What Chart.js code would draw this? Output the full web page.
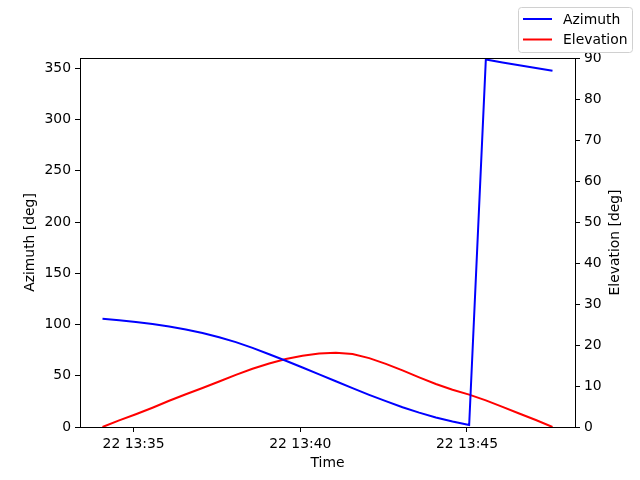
<!DOCTYPE html>
<html>
<head>
<meta charset="utf-8">
<script src="https://cdn.jsdelivr.net/npm/chart.js@4.4.1/dist/chart.umd.min.js"></script>
<style>
  html, body { margin: 0; padding: 0; background: #fff; }
  #wrap { width: 640px; height: 480px; }
</style>
</head>
<body>
<div id="wrap"><canvas id="chart" width="640" height="480"></canvas></div>
<script>
// =============================
// DATA (30 s samples, day 22)
// =============================
const times = [
  "13:34:04", "13:34:34", "13:35:04", "13:35:34", "13:36:04", "13:36:34", "13:37:04",
  "13:37:34", "13:38:04", "13:38:34", "13:39:04", "13:39:34", "13:40:04", "13:40:34",
  "13:41:04", "13:41:34", "13:42:04", "13:42:34", "13:43:04", "13:43:34", "13:44:04",
  "13:44:34", "13:45:04", "13:45:34", "13:46:04", "13:46:34", "13:47:04", "13:47:34"
];
const azimuth = [
  105.6, 104.2, 102.5, 100.4, 98.0, 95.2, 91.7,
  87.6, 82.8, 77.2, 71.0, 64.6, 58.0, 51.3,
  44.6, 37.9, 31.4, 25.2, 19.3, 14.0, 9.3,
  5.3, 2.0, 358.5, 355.7, 353.0, 350.2, 347.6
];
const elevation = [
  0.0, 1.6, 3.1, 4.7, 6.4, 8.0, 9.5,
  11.1, 12.7, 14.2, 15.5, 16.6, 17.4, 17.9,
  18.1, 17.8, 16.8, 15.4, 13.8, 12.1, 10.5,
  9.1, 7.9, 6.5, 4.9, 3.3, 1.7, 0.0
];
const timeTicks = ["13:35:00", "13:40:00", "13:45:00"];
const azTicks = [0, 50, 100, 150, 200, 250, 300, 350];
const elTicks = [0, 10, 20, 30, 40, 50, 60, 70, 80, 90];
const dayLabel = "22";
const elTitle = "Elevation [deg]";

// =============================
// HELPERS
// =============================
const toSec = s => {
  const [h, m, ss] = s.split(":").map(Number);
  return h * 3600 + m * 60 + ss;
};
const fmtTime = v => {
  const h = Math.floor(v / 3600);
  const m = Math.round((v - h * 3600) / 60);
  return `${dayLabel} ${h}:${String(m).padStart(2, "0")}`;
};

const xs = times.map(toSec);
const span = xs[xs.length - 1] - xs[0];
const xMin = xs[0] - span * 0.05;
const xMax = xs[xs.length - 1] + span * 0.05;

const FONT = { family: "'DejaVu Sans', sans-serif", size: 13.9 };

// plot frame, right axis title (matplotlib reads it bottom-to-top) and legend
const framePlugin = {
  id: "frame",
  afterDraw(chart) {
    const { ctx, chartArea: a } = chart;
    ctx.save();
    ctx.strokeStyle = "#000";
    ctx.lineWidth = 1;
    ctx.strokeRect(Math.round(a.left) + 0.5, Math.round(a.top) + 0.5,
                   Math.round(a.right - a.left), Math.round(a.bottom - a.top));

    ctx.font = `${FONT.size}px ${FONT.family}`;
    ctx.fillStyle = "#000";
    ctx.save();
    ctx.translate(615, (a.top + a.bottom) / 2);
    ctx.rotate(-Math.PI / 2);
    ctx.textAlign = "center";
    ctx.textBaseline = "middle";
    ctx.fillText(elTitle, 0, 0);
    ctx.restore();

    // legend box
    const bx = 518.5, by = 7.5, bw = 114, bh = 45, r = 3;
    ctx.fillStyle = "rgba(255,255,255,0.8)";
    ctx.strokeStyle = "#d0d0d0";
    ctx.beginPath();
    ctx.roundRect(bx, by, bw, bh, r);
    ctx.fill();
    ctx.stroke();

    ctx.textBaseline = "middle";
    chart.data.datasets.forEach((ds, i) => {
      const y = 19 + i * 20.5;
      ctx.strokeStyle = ds.borderColor;
      ctx.lineWidth = 2;
      ctx.beginPath();
      ctx.moveTo(523, y);
      ctx.lineTo(552, y);
      ctx.stroke();
      ctx.fillStyle = "#000";
      ctx.fillText(ds.label, 563, y + 1);
    });
    ctx.restore();
  }
};

const axisCommon = {
  grid: { drawOnChartArea: false, drawTicks: true, tickLength: 5, tickColor: "#000", tickWidth: 1 },
  border: { display: true, color: "#000", width: 1 },
  ticks: { color: "#000", font: FONT, padding: 4 },
  title: { display: true, color: "#000", font: FONT }
};

new Chart(document.getElementById("chart").getContext("2d"), {
  type: "line",
  data: {
    datasets: [
      {
        label: "Azimuth",
        data: xs.map((x, i) => ({ x, y: azimuth[i] })),
        borderColor: "#0000ff",
        borderWidth: 2,
        pointRadius: 0,
        tension: 0,
        yAxisID: "y"
      },
      {
        label: "Elevation",
        data: xs.map((x, i) => ({ x, y: elevation[i] })),
        borderColor: "#ff0000",
        borderWidth: 2,
        pointRadius: 0,
        tension: 0,
        yAxisID: "y2"
      }
    ]
  },
  options: {
    responsive: false,
    devicePixelRatio: 1,
    animation: false,
    layout: { padding: { top: 58, left: 0, right: 0, bottom: 0 } },
    plugins: { legend: { display: false }, tooltip: { enabled: false } },
    scales: {
      x: {
        type: "linear",
        min: xMin,
        max: xMax,
        ...axisCommon,
        ticks: { ...axisCommon.ticks, maxRotation: 0, callback: v => fmtTime(v) },
        title: { ...axisCommon.title, text: "Time", padding: { top: 0, bottom: 8 } },
        afterBuildTicks: s => { s.ticks = timeTicks.map(t => ({ value: toSec(t) })); },
        afterFit: s => { s.height = 53; }
      },
      y: {
        position: "left",
        min: 0,
        max: 360,
        ...axisCommon,
        title: { ...axisCommon.title, text: "Azimuth [deg]", padding: { top: 22, bottom: 0 } },
        afterBuildTicks: s => { s.ticks = azTicks.map(v => ({ value: v })); },
        afterFit: s => { s.width = 80; }
      },
      y2: {
        position: "right",
        min: 0,
        max: 90,
        ...axisCommon,
        title: { display: false },
        afterBuildTicks: s => { s.ticks = elTicks.map(v => ({ value: v })); },
        afterFit: s => { s.width = 65; }
      }
    }
  },
  plugins: [framePlugin]
});
</script>
</body>
</html>
